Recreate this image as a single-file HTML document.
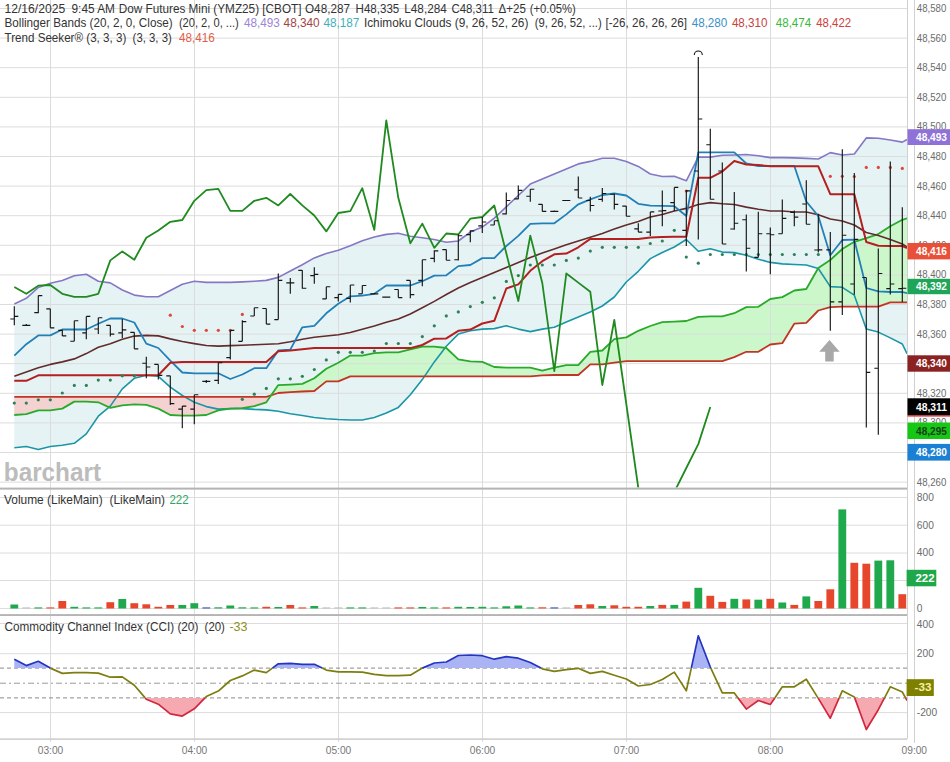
<!DOCTYPE html><html><head><meta charset="utf-8"><style>html,body{margin:0;padding:0;background:#fff;width:950px;height:762px;overflow:hidden}</style></head><body><svg width="950" height="762" viewBox="0 0 950 762" style="display:block">
<defs><clipPath id="cm"><rect x="0" y="0" width="907" height="487.5"/></clipPath><clipPath id="cc"><rect x="0" y="615.5" width="907" height="123.5"/></clipPath></defs>
<rect width="950" height="762" fill="#fff"/>
<g clip-path="url(#cm)">
<polygon points="14.3,304.0 26.3,298.3 38.3,287.5 50.3,283.2 62.3,280.5 74.3,275.7 86.3,274.3 98.3,281.2 110.3,282.9 122.3,290.0 134.3,295.1 146.3,296.8 158.3,296.8 170.3,290.5 182.3,284.2 194.3,281.2 206.3,282.4 218.3,282.4 230.3,282.4 242.3,281.9 254.3,281.2 266.3,280.4 278.3,277.4 290.3,271.0 302.3,264.7 314.3,257.9 326.3,253.4 338.3,250.3 350.3,245.8 362.3,240.7 374.3,237.0 386.3,234.4 398.3,233.2 410.3,236.2 422.3,237.7 434.3,239.5 446.3,242.2 458.3,241.0 470.3,232.1 482.3,227.1 494.3,218.2 506.3,206.8 518.3,195.5 530.3,184.1 542.3,179.1 554.3,174.0 566.3,169.0 578.3,163.9 590.3,161.4 602.3,158.3 614.3,158.3 626.3,161.4 638.3,166.4 650.3,174.0 662.3,176.5 674.3,176.3 686.3,180.8 698.3,157.1 710.3,157.1 722.3,155.3 734.3,155.0 746.3,154.5 758.3,155.8 770.3,157.6 782.3,157.6 794.3,157.9 806.3,158.4 818.3,159.0 830.3,152.6 842.3,155.0 854.3,154.0 866.3,137.9 878.3,138.2 890.3,140.0 902.3,142.1 907.0,139.5 907.0,353.7 902.3,344.0 890.3,337.9 878.3,332.1 866.3,329.0 854.3,295.2 842.3,287.3 830.3,286.6 818.3,268.5 806.3,265.0 794.3,264.5 782.3,263.9 770.3,262.4 758.3,259.2 746.3,255.3 734.3,252.6 722.3,252.1 710.3,248.7 698.3,251.3 686.3,239.5 674.3,247.0 662.3,252.5 650.3,258.6 638.3,271.3 626.3,282.0 614.3,297.0 602.3,306.0 590.3,312.0 578.3,317.0 566.3,322.0 554.3,327.3 542.3,329.1 530.3,331.6 518.3,329.1 506.3,325.8 494.3,328.6 482.3,329.1 470.3,330.8 458.3,334.1 446.3,346.2 434.3,361.9 422.3,379.6 410.3,394.7 398.3,407.4 386.3,412.9 374.3,417.5 362.3,420.0 350.3,420.0 338.3,419.5 326.3,418.7 314.3,417.5 302.3,415.5 290.3,413.7 278.3,411.2 266.3,409.9 254.3,409.4 242.3,408.6 230.3,408.6 218.3,409.1 206.3,406.6 194.3,402.3 182.3,395.5 170.3,387.2 158.3,376.3 146.3,375.3 134.3,378.3 122.3,388.9 110.3,406.1 98.3,416.2 86.3,433.9 74.3,443.3 62.3,445.3 50.3,446.5 38.3,449.6 26.3,446.5 14.3,447.8" fill="#e6f3f4"/>
<polygon points="14.3,415.0 26.3,414.2 38.3,410.4 50.3,410.4 62.3,408.6 74.3,401.6 86.3,401.6 98.3,402.3 110.3,407.9 122.3,405.4 134.3,404.3 146.3,404.9 158.3,408.6 170.3,415.0 182.3,415.7 194.3,415.7 206.3,415.0 218.3,410.4 230.3,408.6 242.3,408.1 254.3,406.1 266.3,402.3 271.2,395.2 271.2,395.2 266.3,396.8 254.3,396.8 242.3,396.8 230.3,396.8 218.3,396.8 206.3,396.8 194.3,396.8 182.3,396.8 170.3,396.8 158.3,396.8 146.3,396.8 134.3,396.8 122.3,396.8 110.3,396.8 98.3,396.8 86.3,396.8 74.3,396.8 62.3,396.8 50.3,396.8 38.3,396.8 26.3,396.8 14.3,396.8" fill="#f4d2d2"/>
<polygon points="271.2,395.2 278.3,385.1 290.3,384.6 302.3,383.9 314.3,378.3 326.3,368.7 338.3,362.7 350.3,355.6 362.3,355.6 374.3,353.1 386.3,352.3 398.3,352.3 410.3,349.3 422.3,346.7 434.3,346.7 446.3,348.0 458.3,359.4 470.3,361.4 482.3,361.9 494.3,367.0 506.3,367.7 518.3,367.7 530.3,367.7 542.3,370.7 554.3,367.7 566.3,365.2 578.3,365.2 590.3,351.8 602.3,350.5 614.3,339.2 626.3,337.4 638.3,330.8 650.3,326.0 662.3,322.2 674.3,321.6 686.3,321.0 698.3,316.8 710.3,316.3 722.3,316.3 734.3,313.2 746.3,307.1 758.3,306.8 770.3,299.0 782.3,297.1 794.3,290.5 806.3,289.0 818.3,268.0 830.3,260.0 842.3,249.0 854.3,241.8 866.3,238.1 878.3,234.1 890.3,226.3 902.3,219.8 907.0,218.4 907.0,302.4 902.3,302.4 890.3,302.4 878.3,306.6 866.3,306.6 854.3,306.6 842.3,306.6 830.3,307.1 818.3,310.5 806.3,322.9 794.3,323.7 782.3,343.2 770.3,344.5 758.3,351.8 746.3,351.8 734.3,357.1 722.3,361.1 710.3,361.1 698.3,361.1 686.3,361.1 674.3,361.1 662.3,361.1 650.3,361.1 638.3,361.1 626.3,361.1 614.3,362.7 602.3,364.4 590.3,364.4 578.3,375.0 566.3,375.0 554.3,375.0 542.3,375.3 530.3,376.3 518.3,376.3 506.3,376.3 494.3,376.3 482.3,376.3 470.3,376.3 458.3,376.3 446.3,376.3 434.3,376.3 422.3,376.3 410.3,376.3 398.3,376.3 386.3,376.3 374.3,376.3 362.3,376.3 350.3,376.3 338.3,381.4 326.3,381.4 314.3,391.0 302.3,391.5 290.3,392.2 278.3,393.0 271.2,395.2" fill="#cbf7cb"/>
</g>
<line x1="0" y1="8.5" x2="907" y2="8.5" stroke="#dcdcdc" stroke-width="1"/>
<line x1="0" y1="38.1" x2="907" y2="38.1" stroke="#dcdcdc" stroke-width="1"/>
<line x1="0" y1="67.7" x2="907" y2="67.7" stroke="#dcdcdc" stroke-width="1"/>
<line x1="0" y1="97.3" x2="907" y2="97.3" stroke="#dcdcdc" stroke-width="1"/>
<line x1="0" y1="126.9" x2="907" y2="126.9" stroke="#dcdcdc" stroke-width="1"/>
<line x1="0" y1="156.5" x2="907" y2="156.5" stroke="#dcdcdc" stroke-width="1"/>
<line x1="0" y1="186.1" x2="907" y2="186.1" stroke="#dcdcdc" stroke-width="1"/>
<line x1="0" y1="215.7" x2="907" y2="215.7" stroke="#dcdcdc" stroke-width="1"/>
<line x1="0" y1="245.3" x2="907" y2="245.3" stroke="#dcdcdc" stroke-width="1"/>
<line x1="0" y1="274.9" x2="907" y2="274.9" stroke="#dcdcdc" stroke-width="1"/>
<line x1="0" y1="304.5" x2="907" y2="304.5" stroke="#dcdcdc" stroke-width="1"/>
<line x1="0" y1="334.1" x2="907" y2="334.1" stroke="#dcdcdc" stroke-width="1"/>
<line x1="0" y1="363.7" x2="907" y2="363.7" stroke="#dcdcdc" stroke-width="1"/>
<line x1="0" y1="393.3" x2="907" y2="393.3" stroke="#dcdcdc" stroke-width="1"/>
<line x1="0" y1="422.9" x2="907" y2="422.9" stroke="#dcdcdc" stroke-width="1"/>
<line x1="0" y1="452.5" x2="907" y2="452.5" stroke="#dcdcdc" stroke-width="1"/>
<line x1="0" y1="482.1" x2="907" y2="482.1" stroke="#dcdcdc" stroke-width="1"/>
<line x1="50.5" y1="0" x2="50.5" y2="742" stroke="#dcdcdc" stroke-width="1"/>
<line x1="194.5" y1="0" x2="194.5" y2="742" stroke="#dcdcdc" stroke-width="1"/>
<line x1="338.5" y1="0" x2="338.5" y2="742" stroke="#dcdcdc" stroke-width="1"/>
<line x1="482.5" y1="0" x2="482.5" y2="742" stroke="#dcdcdc" stroke-width="1"/>
<line x1="626.5" y1="0" x2="626.5" y2="742" stroke="#dcdcdc" stroke-width="1"/>
<line x1="770.5" y1="0" x2="770.5" y2="742" stroke="#dcdcdc" stroke-width="1"/>
<line x1="0" y1="497.5" x2="907" y2="497.5" stroke="#dcdcdc" stroke-width="1"/>
<line x1="0" y1="525.2" x2="907" y2="525.2" stroke="#dcdcdc" stroke-width="1"/>
<line x1="0" y1="553.0" x2="907" y2="553.0" stroke="#dcdcdc" stroke-width="1"/>
<line x1="0" y1="580.5" x2="907" y2="580.5" stroke="#dcdcdc" stroke-width="1"/>
<line x1="0" y1="608.5" x2="907" y2="608.5" stroke="#dcdcdc" stroke-width="1"/>
<line x1="0" y1="623.5" x2="907" y2="623.5" stroke="#dcdcdc" stroke-width="1"/>
<line x1="0" y1="653.7" x2="907" y2="653.7" stroke="#dcdcdc" stroke-width="1"/>
<line x1="0" y1="712.6" x2="907" y2="712.6" stroke="#dcdcdc" stroke-width="1"/>
<line x1="0" y1="668.1" x2="907" y2="668.1" stroke="#8a8a8a" stroke-width="1" stroke-dasharray="4,3"/>
<line x1="0" y1="697.9" x2="907" y2="697.9" stroke="#8a8a8a" stroke-width="1" stroke-dasharray="4,3"/>
<line x1="0" y1="683.2" x2="907" y2="683.2" stroke="#9a9a9a" stroke-width="1" stroke-dasharray="6,3,2,3"/>
<g clip-path="url(#cm)">
<polyline points="14.3,447.8 26.3,446.5 38.3,449.6 50.3,446.5 62.3,445.3 74.3,443.3 86.3,433.9 98.3,416.2 110.3,406.1 122.3,388.9 134.3,378.3 146.3,375.3 158.3,376.3 170.3,387.2 182.3,395.5 194.3,402.3 206.3,406.6 218.3,409.1 230.3,408.6 242.3,408.6 254.3,409.4 266.3,409.9 278.3,411.2 290.3,413.7 302.3,415.5 314.3,417.5 326.3,418.7 338.3,419.5 350.3,420.0 362.3,420.0 374.3,417.5 386.3,412.9 398.3,407.4 410.3,394.7 422.3,379.6 434.3,361.9 446.3,346.2 458.3,334.1 470.3,330.8 482.3,329.1 494.3,328.6 506.3,325.8 518.3,329.1 530.3,331.6 542.3,329.1 554.3,327.3 566.3,322.0 578.3,317.0 590.3,312.0 602.3,306.0 614.3,297.0 626.3,282.0 638.3,271.3 650.3,258.6 662.3,252.5 674.3,247.0 686.3,239.5 698.3,251.3 710.3,248.7 722.3,252.1 734.3,252.6 746.3,255.3 758.3,259.2 770.3,262.4 782.3,263.9 794.3,264.5 806.3,265.0 818.3,268.5 830.3,286.6 842.3,287.3 854.3,295.2 866.3,329.0 878.3,332.1 890.3,337.9 902.3,344.0 907.0,353.7" fill="none" stroke="#1a96a6" stroke-width="1.6" stroke-linejoin="round" />
<polyline points="14.3,304.0 26.3,298.3 38.3,287.5 50.3,283.2 62.3,280.5 74.3,275.7 86.3,274.3 98.3,281.2 110.3,282.9 122.3,290.0 134.3,295.1 146.3,296.8 158.3,296.8 170.3,290.5 182.3,284.2 194.3,281.2 206.3,282.4 218.3,282.4 230.3,282.4 242.3,281.9 254.3,281.2 266.3,280.4 278.3,277.4 290.3,271.0 302.3,264.7 314.3,257.9 326.3,253.4 338.3,250.3 350.3,245.8 362.3,240.7 374.3,237.0 386.3,234.4 398.3,233.2 410.3,236.2 422.3,237.7 434.3,239.5 446.3,242.2 458.3,241.0 470.3,232.1 482.3,227.1 494.3,218.2 506.3,206.8 518.3,195.5 530.3,184.1 542.3,179.1 554.3,174.0 566.3,169.0 578.3,163.9 590.3,161.4 602.3,158.3 614.3,158.3 626.3,161.4 638.3,166.4 650.3,174.0 662.3,176.5 674.3,176.3 686.3,180.8 698.3,157.1 710.3,157.1 722.3,155.3 734.3,155.0 746.3,154.5 758.3,155.8 770.3,157.6 782.3,157.6 794.3,157.9 806.3,158.4 818.3,159.0 830.3,152.6 842.3,155.0 854.3,154.0 866.3,137.9 878.3,138.2 890.3,140.0 902.3,142.1 907.0,139.5" fill="none" stroke="#8478c4" stroke-width="1.6" stroke-linejoin="round" />
<polyline points="14.3,396.8 26.3,396.8 38.3,396.8 50.3,396.8 62.3,396.8 74.3,396.8 86.3,396.8 98.3,396.8 110.3,396.8 122.3,396.8 134.3,396.8 146.3,396.8 158.3,396.8 170.3,396.8 182.3,396.8 194.3,396.8 206.3,396.8 218.3,396.8 230.3,396.8 242.3,396.8 254.3,396.8 266.3,396.8 278.3,393.0 290.3,392.2 302.3,391.5 314.3,391.0 326.3,381.4 338.3,381.4 350.3,376.3 362.3,376.3 374.3,376.3 386.3,376.3 398.3,376.3 410.3,376.3 422.3,376.3 434.3,376.3 446.3,376.3 458.3,376.3 470.3,376.3 482.3,376.3 494.3,376.3 506.3,376.3 518.3,376.3 530.3,376.3 542.3,375.3 554.3,375.0 566.3,375.0 578.3,375.0 590.3,364.4 602.3,364.4 614.3,362.7 626.3,361.1 638.3,361.1 650.3,361.1 662.3,361.1 674.3,361.1 686.3,361.1 698.3,361.1 710.3,361.1 722.3,361.1 734.3,357.1 746.3,351.8 758.3,351.8 770.3,344.5 782.3,343.2 794.3,323.7 806.3,322.9 818.3,310.5 830.3,307.1 842.3,306.6 854.3,306.6 866.3,306.6 878.3,306.6 890.3,302.4 902.3,302.4 907.0,302.4" fill="none" stroke="#c23424" stroke-width="1.8" stroke-linejoin="round" />
<polyline points="14.3,415.0 26.3,414.2 38.3,410.4 50.3,410.4 62.3,408.6 74.3,401.6 86.3,401.6 98.3,402.3 110.3,407.9 122.3,405.4 134.3,404.3 146.3,404.9 158.3,408.6 170.3,415.0 182.3,415.7 194.3,415.7 206.3,415.0 218.3,410.4 230.3,408.6 242.3,408.1 254.3,406.1 266.3,402.3 278.3,385.1 290.3,384.6 302.3,383.9 314.3,378.3 326.3,368.7 338.3,362.7 350.3,355.6 362.3,355.6 374.3,353.1 386.3,352.3 398.3,352.3 410.3,349.3 422.3,346.7 434.3,346.7 446.3,348.0 458.3,359.4 470.3,361.4 482.3,361.9 494.3,367.0 506.3,367.7 518.3,367.7 530.3,367.7 542.3,370.7 554.3,367.7 566.3,365.2 578.3,365.2 590.3,351.8 602.3,350.5 614.3,339.2 626.3,337.4 638.3,330.8 650.3,326.0 662.3,322.2 674.3,321.6 686.3,321.0 698.3,316.8 710.3,316.3 722.3,316.3 734.3,313.2 746.3,307.1 758.3,306.8 770.3,299.0 782.3,297.1 794.3,290.5 806.3,289.0 818.3,268.0 830.3,260.0 842.3,249.0 854.3,241.8 866.3,238.1 878.3,234.1 890.3,226.3 902.3,219.8 907.0,218.4" fill="none" stroke="#2aaa2a" stroke-width="1.8" stroke-linejoin="round" />
<polyline points="14.3,376.3 26.3,372.0 38.3,367.7 50.3,364.4 62.3,361.9 74.3,358.9 86.3,353.6 98.3,347.2 110.3,343.7 122.3,339.2 134.3,336.1 146.3,335.4 158.3,335.9 170.3,338.9 182.3,341.5 194.3,343.6 206.3,345.5 218.3,346.1 230.3,345.6 242.3,345.3 254.3,344.8 266.3,344.3 278.3,343.8 290.3,341.8 302.3,339.3 314.3,337.3 326.3,336.0 338.3,334.7 350.3,332.5 362.3,329.2 374.3,325.9 386.3,322.3 398.3,319.1 410.3,314.0 422.3,307.7 434.3,301.4 446.3,294.5 458.3,288.0 470.3,282.6 482.3,277.6 494.3,272.5 506.3,267.5 518.3,262.4 530.3,257.4 542.3,253.1 554.3,249.0 566.3,244.7 578.3,241.0 590.3,237.2 602.3,233.4 614.3,229.1 626.3,225.0 638.3,221.5 650.3,217.0 662.3,214.5 674.3,211.0 686.3,208.4 698.3,204.5 710.3,202.6 722.3,203.7 734.3,204.5 746.3,207.1 758.3,209.2 770.3,211.0 782.3,211.0 794.3,212.0 806.3,212.0 818.3,214.7 830.3,219.0 842.3,221.0 854.3,225.0 866.3,232.5 878.3,235.5 890.3,239.5 902.3,244.0 907.0,247.0" fill="none" stroke="#622c2c" stroke-width="1.6" stroke-linejoin="round" />
<polyline points="14.3,355.6 26.3,344.2 38.3,335.4 50.3,335.4 62.3,329.5 74.3,329.5 86.3,329.5 98.3,323.8 110.3,318.5 122.3,318.5 134.3,322.5 146.3,343.6 158.3,348.0 170.3,360.7 182.3,372.5 194.3,373.3 206.3,373.3 218.3,373.3 230.3,379.0 242.3,374.5 254.3,368.2 266.3,368.2 278.3,350.5 290.3,349.6 302.3,327.3 314.3,325.8 326.3,313.3 338.3,303.8 350.3,296.3 362.3,295.6 374.3,293.8 386.3,285.5 398.3,285.5 410.3,285.5 422.3,281.2 434.3,275.6 446.3,275.3 458.3,266.1 470.3,265.0 482.3,258.1 494.3,258.1 506.3,246.0 518.3,235.9 530.3,223.8 542.3,223.3 554.3,223.3 566.3,214.4 578.3,204.3 590.3,199.3 602.3,195.0 614.3,193.5 626.3,195.5 638.3,203.8 650.3,205.6 662.3,205.8 674.3,206.2 686.3,216.0 698.3,152.4 710.3,152.4 722.3,152.4 734.3,152.4 746.3,163.5 758.3,166.0 770.3,166.0 782.3,166.0 794.3,166.0 806.3,201.5 818.3,216.0 830.3,255.2 842.3,240.0 854.3,239.7 866.3,288.0 878.3,291.4 890.3,292.0 902.3,292.0 907.0,293.2" fill="none" stroke="#2280b8" stroke-width="1.8" stroke-linejoin="round" />
<polyline points="14.3,380.8 26.3,380.8 38.3,375.3 50.3,375.3 62.3,375.3 74.3,375.3 86.3,375.3 98.3,375.3 110.3,375.3 122.3,375.3 134.3,375.3 146.3,375.3 158.3,375.3 170.3,362.7 182.3,361.9 194.3,361.9 206.3,361.9 218.3,361.9 230.3,361.9 242.3,361.9 254.3,361.9 266.3,361.9 278.3,351.3 290.3,350.5 302.3,349.3 314.3,348.1 326.3,348.1 338.3,348.1 350.3,348.1 362.3,348.1 374.3,348.1 386.3,348.1 398.3,348.1 410.3,348.1 422.3,345.0 434.3,338.7 446.3,338.4 458.3,330.8 470.3,329.6 482.3,323.5 494.3,320.8 506.3,288.5 518.3,284.4 530.3,270.8 542.3,261.2 554.3,254.3 566.3,253.6 578.3,247.3 590.3,238.9 602.3,238.9 614.3,238.9 626.3,238.9 638.3,238.9 650.3,237.5 662.3,237.0 674.3,236.8 686.3,236.8 698.3,177.8 710.3,177.8 722.3,171.6 734.3,161.0 746.3,164.5 758.3,165.0 770.3,166.3 782.3,166.3 794.3,166.3 806.3,166.3 818.3,166.3 830.3,194.2 842.3,194.2 854.3,194.2 866.3,242.0 878.3,245.7 890.3,246.0 902.3,246.0 907.0,248.0" fill="none" stroke="#b42020" stroke-width="2.0" stroke-linejoin="round" />
<polyline points="14.3,287.0 26.3,293.8 38.3,285.7 50.3,285.0 62.3,293.8 74.3,296.8 86.3,296.8 98.3,293.8 110.3,260.4 122.3,251.4 134.3,259.7 146.3,237.7 158.3,230.6 170.3,221.8 182.3,220.0 194.3,200.8 206.3,190.2 218.3,188.9 230.3,210.9 242.3,210.9 254.3,200.8 266.3,197.8 278.3,205.4 290.3,194.0 302.3,205.4 314.3,215.5 326.3,231.4 338.3,213.0 350.3,211.2 362.3,188.2 374.3,229.9 386.3,120.3 398.3,197.8 410.3,243.3 422.3,223.6 434.3,247.8 446.3,233.5 458.3,234.5 470.3,218.7 482.3,217.0 494.3,205.5 506.3,253.3 518.3,301.0 530.3,235.6 542.3,283.0 554.3,371.2 566.3,273.5 578.3,282.6 590.3,291.8 602.3,385.0 614.3,320.0 626.3,404.0 638.3,488.0 650.3,570.0 662.3,560.0 674.3,492.0 686.3,468.0 698.3,444.1 710.3,407.0" fill="none" stroke="#1f8a1f" stroke-width="1.8" stroke-linejoin="round" />
<circle cx="14.3" cy="403.1" r="1.6" fill="#2f8256"/>
<circle cx="26.3" cy="403.1" r="1.6" fill="#2f8256"/>
<circle cx="38.3" cy="399.8" r="1.6" fill="#2f8256"/>
<circle cx="50.3" cy="399.8" r="1.6" fill="#2f8256"/>
<circle cx="62.3" cy="393.0" r="1.6" fill="#2f8256"/>
<circle cx="74.3" cy="385.4" r="1.6" fill="#2f8256"/>
<circle cx="86.3" cy="385.4" r="1.6" fill="#2f8256"/>
<circle cx="98.3" cy="380.1" r="1.6" fill="#2f8256"/>
<circle cx="110.3" cy="380.1" r="1.6" fill="#2f8256"/>
<circle cx="122.3" cy="375.8" r="1.6" fill="#2f8256"/>
<circle cx="134.3" cy="375.8" r="1.6" fill="#2f8256"/>
<circle cx="242.3" cy="399.3" r="1.6" fill="#2f8256"/>
<circle cx="254.3" cy="394.2" r="1.6" fill="#2f8256"/>
<circle cx="266.3" cy="388.4" r="1.6" fill="#2f8256"/>
<circle cx="278.3" cy="378.8" r="1.6" fill="#2f8256"/>
<circle cx="290.3" cy="378.8" r="1.6" fill="#2f8256"/>
<circle cx="302.3" cy="376.3" r="1.6" fill="#2f8256"/>
<circle cx="314.3" cy="369.5" r="1.6" fill="#2f8256"/>
<circle cx="326.3" cy="359.9" r="1.6" fill="#2f8256"/>
<circle cx="338.3" cy="352.3" r="1.6" fill="#2f8256"/>
<circle cx="350.3" cy="352.3" r="1.6" fill="#2f8256"/>
<circle cx="362.3" cy="352.3" r="1.6" fill="#2f8256"/>
<circle cx="374.3" cy="351.0" r="1.6" fill="#2f8256"/>
<circle cx="386.3" cy="343.5" r="1.6" fill="#2f8256"/>
<circle cx="398.3" cy="343.5" r="1.6" fill="#2f8256"/>
<circle cx="410.3" cy="343.5" r="1.6" fill="#2f8256"/>
<circle cx="422.3" cy="336.6" r="1.6" fill="#2f8256"/>
<circle cx="434.3" cy="325.8" r="1.6" fill="#2f8256"/>
<circle cx="446.3" cy="315.9" r="1.6" fill="#2f8256"/>
<circle cx="458.3" cy="311.9" r="1.6" fill="#2f8256"/>
<circle cx="470.3" cy="306.6" r="1.6" fill="#2f8256"/>
<circle cx="482.3" cy="302.3" r="1.6" fill="#2f8256"/>
<circle cx="494.3" cy="297.8" r="1.6" fill="#2f8256"/>
<circle cx="506.3" cy="281.4" r="1.6" fill="#2f8256"/>
<circle cx="518.3" cy="275.6" r="1.6" fill="#2f8256"/>
<circle cx="530.3" cy="265.0" r="1.6" fill="#2f8256"/>
<circle cx="542.3" cy="265.0" r="1.6" fill="#2f8256"/>
<circle cx="554.3" cy="265.0" r="1.6" fill="#2f8256"/>
<circle cx="566.3" cy="260.4" r="1.6" fill="#2f8256"/>
<circle cx="578.3" cy="258.1" r="1.6" fill="#2f8256"/>
<circle cx="590.3" cy="251.1" r="1.6" fill="#2f8256"/>
<circle cx="602.3" cy="247.3" r="1.6" fill="#2f8256"/>
<circle cx="614.3" cy="247.3" r="1.6" fill="#2f8256"/>
<circle cx="626.3" cy="247.3" r="1.6" fill="#2f8256"/>
<circle cx="638.3" cy="247.3" r="1.6" fill="#2f8256"/>
<circle cx="650.3" cy="243.5" r="1.6" fill="#2f8256"/>
<circle cx="662.3" cy="241.0" r="1.6" fill="#2f8256"/>
<circle cx="674.3" cy="230.3" r="1.6" fill="#2f8256"/>
<circle cx="686.3" cy="257.1" r="1.6" fill="#2f8256"/>
<circle cx="698.3" cy="263.2" r="1.6" fill="#2f8256"/>
<circle cx="710.3" cy="254.5" r="1.6" fill="#2f8256"/>
<circle cx="722.3" cy="254.5" r="1.6" fill="#2f8256"/>
<circle cx="734.3" cy="254.5" r="1.6" fill="#2f8256"/>
<circle cx="746.3" cy="254.5" r="1.6" fill="#2f8256"/>
<circle cx="758.3" cy="254.5" r="1.6" fill="#2f8256"/>
<circle cx="770.3" cy="254.5" r="1.6" fill="#2f8256"/>
<circle cx="782.3" cy="254.5" r="1.6" fill="#2f8256"/>
<circle cx="794.3" cy="254.5" r="1.6" fill="#2f8256"/>
<circle cx="806.3" cy="254.5" r="1.6" fill="#2f8256"/>
<circle cx="818.3" cy="254.5" r="1.6" fill="#2f8256"/>
<circle cx="170.3" cy="315.2" r="1.6" fill="#e0473a"/>
<circle cx="182.3" cy="326.5" r="1.6" fill="#e0473a"/>
<circle cx="194.3" cy="330.3" r="1.6" fill="#e0473a"/>
<circle cx="206.3" cy="330.3" r="1.6" fill="#e0473a"/>
<circle cx="218.3" cy="330.3" r="1.6" fill="#e0473a"/>
<circle cx="230.3" cy="330.3" r="1.6" fill="#e0473a"/>
<circle cx="242.3" cy="314.4" r="1.6" fill="#e0473a"/>
<circle cx="686.3" cy="191.0" r="1.6" fill="#e0473a"/>
<circle cx="830.3" cy="176.3" r="1.6" fill="#e0473a"/>
<circle cx="842.3" cy="176.3" r="1.6" fill="#e0473a"/>
<circle cx="854.3" cy="176.5" r="1.6" fill="#e0473a"/>
<circle cx="866.3" cy="167.4" r="1.6" fill="#e0473a"/>
<circle cx="878.3" cy="167.4" r="1.6" fill="#e0473a"/>
<circle cx="890.3" cy="167.4" r="1.6" fill="#e0473a"/>
<circle cx="902.3" cy="168.4" r="1.6" fill="#e0473a"/>
<path d="M14.3 306.3V325.3M10.3 319H14.3M14.3 316.4H18.3M26.3 324V326M22.3 325.3H26.3M26.3 325.3H30.3M38.3 295.6V313.3M34.3 312.6H38.3M38.3 295.6H42.3M50.3 308.8V327.8M46.3 308.8H50.3M50.3 327.8H54.3M62.3 329.8V335.9M58.3 330.3H62.3M62.3 335.9H66.3M74.3 320.7V341.2M70.3 341.2H74.3M74.3 320.7H78.3M86.3 316.4V339.2M82.3 332.8H86.3M86.3 316.4H90.3M98.3 317.7V334.1M94.3 329H98.3M98.3 317.7H102.3M110.3 325.3V336.6M106.3 325.3H110.3M110.3 334.1H114.3M122.3 319V337.9M118.3 332.8H122.3M122.3 329.8H126.3M134.3 332.3V348.8M130.3 332.3H134.3M134.3 348.8H138.3M146.3 356.8V378.3M142.3 363.2H146.3M146.3 367H150.3M158.3 364.4V379.6M154.3 364.4H158.3M158.3 375.3H162.3M170.3 375.8V404.9M166.3 375.8H170.3M170.3 403.6H174.3M182.3 406.1V428.3M178.3 409.1H182.3M182.3 406.1H186.3M194.3 394.7V424.3M190.3 409.1H194.3M194.3 394.7H198.3M206.3 380V383M202.3 381.4H206.3M206.3 381.4H210.3M218.3 362.7V384.1M214.3 380.3H218.3M218.3 362.7H222.3M230.3 330.3V359.4M226.3 357.6H230.3M230.3 330.3H234.3M242.3 320.3V341.3M238.3 341.3H242.3M242.3 321.6H246.3M254.3 307.7V316M250.3 316H254.3M254.3 307.7H258.3M266.3 308.5V324.1M262.3 308.5H266.3M266.3 324.1H270.3M278.3 273.6V319.6M274.3 319.6H278.3M278.3 280.4H282.3M290.3 278.1V293.8M286.3 282.9H290.3M290.3 282.9H294.3M302.3 270.3V288.7M298.3 270.3H302.3M302.3 288.2H306.3M314.3 267.3V283.7M310.3 275.6H314.3M314.3 274.3H318.3M326.3 286.7V298.9M322.3 298.9H326.3M326.3 286.7H330.3M338.3 294.3V301.4M334.3 297.6H338.3M338.3 294.3H342.3M350.3 285V302.6M346.3 298.3H350.3M350.3 285H354.3M362.3 285.5V293.8M358.3 293.8H362.3M362.3 285.5H366.3M374.3 293V294.5M370.3 293.8H374.3M374.3 293.8H378.3M386.3 296.5V297.5M382.3 297.1H386.3M386.3 297.1H390.3M398.3 289.5V297.6M394.3 289.5H398.3M398.3 297.6H402.3M410.3 280.4V298.3M406.3 280.4H410.3M410.3 294.6H414.3M422.3 259.7V286.2M418.3 280.4H422.3M422.3 259.7H426.3M434.3 250.3V262.2M430.3 258.4H434.3M434.3 250.8H438.3M446.3 249.6V260.2M442.3 249.6H446.3M446.3 260.2H450.3M458.3 234.4V260.4M454.3 259.7H458.3M458.3 235.7H462.3M470.3 230.3V242.2M466.3 234.6H470.3M470.3 230.8H474.3M482.3 217V232.9M478.3 225.8H482.3M482.3 222H486.3M494.3 220.7V225M490.3 225H494.3M494.3 220.7H498.3M506.3 192.4V214.4M502.3 213.9H506.3M506.3 200.5H510.3M518.3 185.4V199.3M514.3 198.8H518.3M518.3 190.4H522.3M530.3 189.2V201.8M526.3 196.2H530.3M530.3 189.2H534.3M542.3 204.3V211.4M538.3 204.3H542.3M542.3 211.4H546.3M554.3 210.5V212M550.3 211.4H554.3M554.3 211.4H558.3M566.3 200V201M562.3 200.5H566.3M566.3 200.5H570.3M578.3 176.5V198M574.3 189.9H578.3M578.3 198H582.3M590.3 196.7V211.5M586.3 200.5H590.3M590.3 205.5H594.3M602.3 187.9V201.8M598.3 199.3H602.3M602.3 193.5H606.3M614.3 193.5V209.4M610.3 194.2H614.3M614.3 204.3H618.3M626.3 206.1V216.2M622.3 206.1H626.3M626.3 216.2H630.3M638.3 223.3V232.1M634.3 228.8H638.3M638.3 232.1H642.3M650.3 211.9V235.9M646.3 232.1H650.3M650.3 211.9H654.3M662.3 190.4V226.3M658.3 211H662.3M662.3 210.6H666.3M674.3 187.4V211M670.3 202.6H674.3M674.3 187.4H678.3M686.3 190V246M682.3 230.3H686.3M686.3 190.8H690.3M698.3 57.1V239.5M694.3 171H698.3M698.3 119H702.3M710.3 128.7V199.5M706.3 144.7H710.3M710.3 199.2H714.3M722.3 162.4V244M718.3 171H722.3M722.3 244H726.3M734.3 192.1V229.7M730.3 229H734.3M734.3 223.2H738.3M746.3 214.5V271.6M742.3 219.7H746.3M746.3 248.2H750.3M758.3 211.8V257.4M754.3 257.4H758.3M758.3 233.7H762.3M770.3 227.4V274.2M766.3 233.7H770.3M770.3 234.7H774.3M782.3 199.5V233.7M778.3 233.7H782.3M782.3 218.4H786.3M794.3 210.5V226.3M790.3 212.4H794.3M794.3 217.1H798.3M806.3 180.3V224.2M802.3 204H806.3M806.3 224.2H810.3M818.3 213.7V252.6M814.3 250H818.3M818.3 249.9H822.3M830.3 232.1V330.8M826.3 249.9H830.3M830.3 301.8H834.3M842.3 149.2V315M838.3 301.8H842.3M842.3 235.2H846.3M854.3 172.9V294.7M850.3 284H854.3M854.3 239.4H858.3M866.3 277.5V427.4M862.3 277.5H866.3M866.3 372.4H870.3M878.3 248.6V434.7M874.3 368.2H878.3M878.3 273.5H882.3M890.3 161.6V294.5M886.3 288.6H890.3M890.3 284H894.3M902.3 207.2V302.1M898.3 288.6H902.3M902.3 288.2H906.3" stroke="#151515" stroke-width="1.15" fill="none"/>
<path d="M694.3 55 A4 4 0 0 1 702.3 55" stroke="#111" stroke-width="1.1" fill="none"/>
<path d="M819.2 351.8 L829.5 340 L839.7 351.8 L833.7 351.8 L833.7 361.6 L825.2 361.6 L825.2 351.8 Z" fill="#a8a8a8"/>
<text x="3.8" y="481.4" font-family="Liberation Sans, sans-serif" font-weight="bold" font-size="25" fill="#bcbcbc" textLength="97.2" lengthAdjust="spacingAndGlyphs">barchart</text>
</g>
<rect x="10.4" y="604.5" width="7.8" height="4.0" fill="#1fa84c"/>
<rect x="22.4" y="607.4" width="7.8" height="1.1" fill="#bdbdbd"/>
<rect x="34.4" y="607.4" width="7.8" height="1.1" fill="#1fa84c"/>
<rect x="46.4" y="607.4" width="7.8" height="1.1" fill="#e6472c"/>
<rect x="58.4" y="601.0" width="7.8" height="7.5" fill="#e6472c"/>
<rect x="70.4" y="606.8" width="7.8" height="1.7" fill="#1fa84c"/>
<rect x="82.4" y="607.4" width="7.8" height="1.1" fill="#1fa84c"/>
<rect x="94.4" y="607.4" width="7.8" height="1.1" fill="#1fa84c"/>
<rect x="106.4" y="602.2" width="7.8" height="6.3" fill="#e6472c"/>
<rect x="118.4" y="599.0" width="7.8" height="9.5" fill="#1fa84c"/>
<rect x="130.4" y="603.2" width="7.8" height="5.3" fill="#e6472c"/>
<rect x="142.4" y="604.3" width="7.8" height="4.2" fill="#e6472c"/>
<rect x="154.4" y="606.8" width="7.8" height="1.7" fill="#e6472c"/>
<rect x="166.4" y="605.0" width="7.8" height="3.5" fill="#e6472c"/>
<rect x="178.4" y="605.0" width="7.8" height="3.5" fill="#1fa84c"/>
<rect x="190.4" y="603.2" width="7.8" height="5.3" fill="#1fa84c"/>
<rect x="202.4" y="607.4" width="7.8" height="1.1" fill="#3a4fb0"/>
<rect x="214.4" y="607.3" width="7.8" height="1.2" fill="#1fa84c"/>
<rect x="226.4" y="605.5" width="7.8" height="3.0" fill="#1fa84c"/>
<rect x="238.4" y="607.3" width="7.8" height="1.2" fill="#1fa84c"/>
<rect x="250.4" y="607.4" width="7.8" height="1.1" fill="#1fa84c"/>
<rect x="262.4" y="606.8" width="7.8" height="1.7" fill="#e6472c"/>
<rect x="274.4" y="607.0" width="7.8" height="1.5" fill="#1fa84c"/>
<rect x="286.4" y="605.0" width="7.8" height="3.5" fill="#e6472c"/>
<rect x="298.4" y="607.4" width="7.8" height="1.1" fill="#e6472c"/>
<rect x="310.4" y="606.0" width="7.8" height="2.5" fill="#1fa84c"/>
<rect x="322.4" y="607.4" width="7.8" height="1.1" fill="#bdbdbd"/>
<rect x="334.4" y="607.4" width="7.8" height="1.1" fill="#bdbdbd"/>
<rect x="346.4" y="607.4" width="7.8" height="1.1" fill="#1fa84c"/>
<rect x="358.4" y="607.4" width="7.8" height="1.1" fill="#1fa84c"/>
<rect x="370.4" y="607.4" width="7.8" height="1.1" fill="#bdbdbd"/>
<rect x="382.4" y="607.4" width="7.8" height="1.1" fill="#bdbdbd"/>
<rect x="394.4" y="607.4" width="7.8" height="1.1" fill="#e6472c"/>
<rect x="406.4" y="607.4" width="7.8" height="1.1" fill="#e6472c"/>
<rect x="418.4" y="607.0" width="7.8" height="1.5" fill="#1fa84c"/>
<rect x="430.4" y="607.4" width="7.8" height="1.1" fill="#1fa84c"/>
<rect x="442.4" y="607.4" width="7.8" height="1.1" fill="#e6472c"/>
<rect x="454.4" y="606.8" width="7.8" height="1.7" fill="#1fa84c"/>
<rect x="466.4" y="607.0" width="7.8" height="1.5" fill="#1fa84c"/>
<rect x="478.4" y="606.8" width="7.8" height="1.7" fill="#1fa84c"/>
<rect x="490.4" y="607.4" width="7.8" height="1.1" fill="#1fa84c"/>
<rect x="502.4" y="606.3" width="7.8" height="2.2" fill="#1fa84c"/>
<rect x="514.4" y="605.5" width="7.8" height="3.0" fill="#1fa84c"/>
<rect x="526.4" y="607.4" width="7.8" height="1.1" fill="#1fa84c"/>
<rect x="538.4" y="607.3" width="7.8" height="1.2" fill="#e6472c"/>
<rect x="550.4" y="607.4" width="7.8" height="1.1" fill="#3a4fb0"/>
<rect x="562.4" y="607.4" width="7.8" height="1.1" fill="#bdbdbd"/>
<rect x="574.4" y="605.0" width="7.8" height="3.5" fill="#e6472c"/>
<rect x="586.4" y="604.3" width="7.8" height="4.2" fill="#e6472c"/>
<rect x="598.4" y="606.0" width="7.8" height="2.5" fill="#1fa84c"/>
<rect x="610.4" y="605.3" width="7.8" height="3.2" fill="#e6472c"/>
<rect x="622.4" y="606.8" width="7.8" height="1.7" fill="#e6472c"/>
<rect x="634.4" y="606.8" width="7.8" height="1.7" fill="#e6472c"/>
<rect x="646.4" y="606.0" width="7.8" height="2.5" fill="#1fa84c"/>
<rect x="658.4" y="604.9" width="7.8" height="3.6" fill="#e6472c"/>
<rect x="670.4" y="604.9" width="7.8" height="3.6" fill="#1fa84c"/>
<rect x="682.4" y="601.6" width="7.8" height="6.9" fill="#e6472c"/>
<rect x="694.4" y="587.8" width="7.8" height="20.7" fill="#1fa84c"/>
<rect x="706.4" y="595.8" width="7.8" height="12.7" fill="#e6472c"/>
<rect x="718.4" y="601.9" width="7.8" height="6.6" fill="#e6472c"/>
<rect x="730.4" y="598.8" width="7.8" height="9.7" fill="#1fa84c"/>
<rect x="742.4" y="599.4" width="7.8" height="9.1" fill="#e6472c"/>
<rect x="754.4" y="599.7" width="7.8" height="8.8" fill="#1fa84c"/>
<rect x="766.4" y="598.8" width="7.8" height="9.7" fill="#e6472c"/>
<rect x="778.4" y="602.5" width="7.8" height="6.0" fill="#1fa84c"/>
<rect x="790.4" y="604.9" width="7.8" height="3.6" fill="#e6472c"/>
<rect x="802.4" y="596.4" width="7.8" height="12.1" fill="#1fa84c"/>
<rect x="814.4" y="601.0" width="7.8" height="7.5" fill="#e6472c"/>
<rect x="826.4" y="589.3" width="7.8" height="19.2" fill="#e6472c"/>
<rect x="838.4" y="509.4" width="7.8" height="99.1" fill="#1fa84c"/>
<rect x="850.4" y="562.8" width="7.8" height="45.7" fill="#e6472c"/>
<rect x="862.4" y="563.7" width="7.8" height="44.8" fill="#e6472c"/>
<rect x="874.4" y="560.6" width="7.8" height="47.9" fill="#1fa84c"/>
<rect x="886.4" y="560.3" width="7.8" height="48.2" fill="#1fa84c"/>
<rect x="898.4" y="594.2" width="7.8" height="14.3" fill="#e6472c"/>
<g clip-path="url(#cc)">
<polygon points="14.3,668.1 14.3,659.2 26.3,665.6 38.3,661.3 50.3,668.1" fill="#aab4f4"/>
<polygon points="272.4,668.1 278.3,663.8 290.3,663.3 302.3,664.3 314.3,664.3 322.2,668.1" fill="#aab4f4"/>
<polygon points="422.3,668.1 434.3,663.0 446.3,662.0 458.3,655.5 470.3,655.0 482.3,655.7 494.3,659.2 506.3,656.7 518.3,658.2 530.3,662.5 541.0,668.1" fill="#aab4f4"/>
<polygon points="691.3,668.1 698.3,635.8 710.3,667.0 710.8,668.1" fill="#aab4f4"/>
<polygon points="145.2,697.9 146.3,699.2 158.3,704.2 170.3,713.8 182.3,716.1 194.3,708.8 205.0,697.9" fill="#f6a9b1"/>
<polygon points="738.0,697.9 746.3,709.1 758.3,700.5 770.3,704.5 774.8,697.9" fill="#f6a9b1"/>
<polygon points="818.0,697.9 818.3,698.4 830.3,718.2 839.2,697.9" fill="#f6a9b1"/>
<polygon points="854.7,697.9 866.3,729.5 878.3,709.7 884.5,697.9" fill="#f6a9b1"/>
<polygon points="905.6,697.9 907.0,700.5 907.0,697.9" fill="#f6a9b1"/>
<polyline points="14.3,659.2 26.3,665.6 38.3,661.3 50.3,668.1" fill="none" stroke="#2436c0" stroke-width="1.7" stroke-linejoin="round" />
<polyline points="50.3,668.1 62.3,673.4 74.3,672.6 86.3,672.6 98.3,673.1 110.3,677.2 122.3,676.9 134.3,685.3 145.2,697.9" fill="none" stroke="#7d7d10" stroke-width="1.7" stroke-linejoin="round" />
<polyline points="145.2,697.9 146.3,699.2 158.3,704.2 170.3,713.8 182.3,716.1 194.3,708.8 205.0,697.9" fill="none" stroke="#d0283e" stroke-width="1.7" stroke-linejoin="round" />
<polyline points="205.0,697.9 206.3,696.6 218.3,691.1 230.3,680.5 242.3,675.9 254.3,670.1 266.3,672.6 272.4,668.1" fill="none" stroke="#7d7d10" stroke-width="1.7" stroke-linejoin="round" />
<polyline points="272.4,668.1 278.3,663.8 290.3,663.3 302.3,664.3 314.3,664.3 322.2,668.1" fill="none" stroke="#2436c0" stroke-width="1.7" stroke-linejoin="round" />
<polyline points="322.2,668.1 326.3,670.1 338.3,671.9 350.3,671.9 362.3,672.1 374.3,674.4 386.3,675.7 398.3,675.7 410.3,675.2 422.3,668.1" fill="none" stroke="#7d7d10" stroke-width="1.7" stroke-linejoin="round" />
<polyline points="422.3,668.1 434.3,663.0 446.3,662.0 458.3,655.5 470.3,655.0 482.3,655.7 494.3,659.2 506.3,656.7 518.3,658.2 530.3,662.5 541.0,668.1" fill="none" stroke="#2436c0" stroke-width="1.7" stroke-linejoin="round" />
<polyline points="541.0,668.1 542.3,668.8 554.3,671.4 566.3,669.6 578.3,668.3 590.3,673.4 602.3,671.4 614.3,675.2 626.3,679.0 638.3,686.0 650.3,684.5 662.3,679.5 674.3,672.1 686.3,690.8 691.3,668.1" fill="none" stroke="#7d7d10" stroke-width="1.7" stroke-linejoin="round" />
<polyline points="691.3,668.1 698.3,635.8 710.3,667.0 710.8,668.1" fill="none" stroke="#2436c0" stroke-width="1.7" stroke-linejoin="round" />
<polyline points="710.8,668.1 722.3,692.9 734.3,692.9 738.0,697.9" fill="none" stroke="#7d7d10" stroke-width="1.7" stroke-linejoin="round" />
<polyline points="738.0,697.9 746.3,709.1 758.3,700.5 770.3,704.5 774.8,697.9" fill="none" stroke="#d0283e" stroke-width="1.7" stroke-linejoin="round" />
<polyline points="774.8,697.9 782.3,686.8 794.3,686.8 806.3,679.2 818.0,697.9" fill="none" stroke="#7d7d10" stroke-width="1.7" stroke-linejoin="round" />
<polyline points="818.0,697.9 818.3,698.4 830.3,718.2 839.2,697.9" fill="none" stroke="#d0283e" stroke-width="1.7" stroke-linejoin="round" />
<polyline points="839.2,697.9 842.3,690.8 854.3,696.9 854.7,697.9" fill="none" stroke="#7d7d10" stroke-width="1.7" stroke-linejoin="round" />
<polyline points="854.7,697.9 866.3,729.5 878.3,709.7 884.5,697.9" fill="none" stroke="#d0283e" stroke-width="1.7" stroke-linejoin="round" />
<polyline points="884.5,697.9 890.3,686.8 902.3,692.0 905.6,697.9" fill="none" stroke="#7d7d10" stroke-width="1.7" stroke-linejoin="round" />
<polyline points="905.6,697.9 907.0,700.5" fill="none" stroke="#d0283e" stroke-width="1.7" stroke-linejoin="round" />
</g>
<rect x="0" y="487.6" width="907" height="2" fill="#b4b4b4"/>
<rect x="0" y="614.1" width="907" height="1.9" fill="#b4b4b4"/>
<rect x="0" y="738.4" width="907" height="1.4" fill="#c8c8c8"/>
<line x1="907.5" y1="0" x2="907.5" y2="739" stroke="#d0d0d0" stroke-width="1"/>
<line x1="914.5" y1="0" x2="914.5" y2="743" stroke="#d0d0d0" stroke-width="1"/>
<text x="916.8" y="11.9" font-family="Liberation Sans, sans-serif" font-size="10.2" fill="#6c6c6c" textLength="29.5" lengthAdjust="spacingAndGlyphs">48,580</text>
<text x="916.8" y="41.5" font-family="Liberation Sans, sans-serif" font-size="10.2" fill="#6c6c6c" textLength="29.5" lengthAdjust="spacingAndGlyphs">48,560</text>
<text x="916.8" y="71.1" font-family="Liberation Sans, sans-serif" font-size="10.2" fill="#6c6c6c" textLength="29.5" lengthAdjust="spacingAndGlyphs">48,540</text>
<text x="916.8" y="100.7" font-family="Liberation Sans, sans-serif" font-size="10.2" fill="#6c6c6c" textLength="29.5" lengthAdjust="spacingAndGlyphs">48,520</text>
<text x="916.8" y="130.3" font-family="Liberation Sans, sans-serif" font-size="10.2" fill="#6c6c6c" textLength="29.5" lengthAdjust="spacingAndGlyphs">48,500</text>
<text x="916.8" y="159.9" font-family="Liberation Sans, sans-serif" font-size="10.2" fill="#6c6c6c" textLength="29.5" lengthAdjust="spacingAndGlyphs">48,480</text>
<text x="916.8" y="189.5" font-family="Liberation Sans, sans-serif" font-size="10.2" fill="#6c6c6c" textLength="29.5" lengthAdjust="spacingAndGlyphs">48,460</text>
<text x="916.8" y="219.1" font-family="Liberation Sans, sans-serif" font-size="10.2" fill="#6c6c6c" textLength="29.5" lengthAdjust="spacingAndGlyphs">48,440</text>
<text x="916.8" y="248.7" font-family="Liberation Sans, sans-serif" font-size="10.2" fill="#6c6c6c" textLength="29.5" lengthAdjust="spacingAndGlyphs">48,420</text>
<text x="916.8" y="278.3" font-family="Liberation Sans, sans-serif" font-size="10.2" fill="#6c6c6c" textLength="29.5" lengthAdjust="spacingAndGlyphs">48,400</text>
<text x="916.8" y="307.9" font-family="Liberation Sans, sans-serif" font-size="10.2" fill="#6c6c6c" textLength="29.5" lengthAdjust="spacingAndGlyphs">48,380</text>
<text x="916.8" y="337.5" font-family="Liberation Sans, sans-serif" font-size="10.2" fill="#6c6c6c" textLength="29.5" lengthAdjust="spacingAndGlyphs">48,360</text>
<text x="916.8" y="367.1" font-family="Liberation Sans, sans-serif" font-size="10.2" fill="#6c6c6c" textLength="29.5" lengthAdjust="spacingAndGlyphs">48,340</text>
<text x="916.8" y="396.7" font-family="Liberation Sans, sans-serif" font-size="10.2" fill="#6c6c6c" textLength="29.5" lengthAdjust="spacingAndGlyphs">48,320</text>
<text x="916.8" y="426.3" font-family="Liberation Sans, sans-serif" font-size="10.2" fill="#6c6c6c" textLength="29.5" lengthAdjust="spacingAndGlyphs">48,300</text>
<text x="916.8" y="455.9" font-family="Liberation Sans, sans-serif" font-size="10.2" fill="#6c6c6c" textLength="29.5" lengthAdjust="spacingAndGlyphs">48,280</text>
<text x="916.8" y="485.5" font-family="Liberation Sans, sans-serif" font-size="10.2" fill="#6c6c6c" textLength="29.5" lengthAdjust="spacingAndGlyphs">48,260</text>
<text x="916.8" y="500.9" font-family="Liberation Sans, sans-serif" font-size="10.2" fill="#6c6c6c">800</text>
<text x="916.8" y="528.6" font-family="Liberation Sans, sans-serif" font-size="10.2" fill="#6c6c6c">600</text>
<text x="916.8" y="556.4" font-family="Liberation Sans, sans-serif" font-size="10.2" fill="#6c6c6c">400</text>
<text x="916.8" y="583.9" font-family="Liberation Sans, sans-serif" font-size="10.2" fill="#6c6c6c">200</text>
<text x="916.8" y="611.9" font-family="Liberation Sans, sans-serif" font-size="10.2" fill="#6c6c6c">0</text>
<text x="916.8" y="627.6" font-family="Liberation Sans, sans-serif" font-size="10.2" fill="#6c6c6c">400</text>
<text x="916.8" y="657.2" font-family="Liberation Sans, sans-serif" font-size="10.2" fill="#6c6c6c">200</text>
<text x="916.8" y="715.5" font-family="Liberation Sans, sans-serif" font-size="10.2" fill="#6c6c6c">-200</text>
<text x="50.5" y="753.9" font-family="Liberation Sans, sans-serif" font-size="10.2" fill="#777" text-anchor="middle">03:00</text>
<text x="194.5" y="753.9" font-family="Liberation Sans, sans-serif" font-size="10.2" fill="#777" text-anchor="middle">04:00</text>
<text x="338.5" y="753.9" font-family="Liberation Sans, sans-serif" font-size="10.2" fill="#777" text-anchor="middle">05:00</text>
<text x="482.5" y="753.9" font-family="Liberation Sans, sans-serif" font-size="10.2" fill="#777" text-anchor="middle">06:00</text>
<text x="626.5" y="753.9" font-family="Liberation Sans, sans-serif" font-size="10.2" fill="#777" text-anchor="middle">07:00</text>
<text x="770.5" y="753.9" font-family="Liberation Sans, sans-serif" font-size="10.2" fill="#777" text-anchor="middle">08:00</text>
<text x="914.3" y="753.9" font-family="Liberation Sans, sans-serif" font-size="10.2" fill="#777" text-anchor="middle">09:00</text>
<rect x="907.5" y="129.2" width="42.5" height="15.800000000000011" fill="#8e72d8"/>
<text x="916.0" y="140.9" font-family="Liberation Sans, sans-serif" font-size="10.5" font-weight="bold" fill="#fff" textLength="31" lengthAdjust="spacingAndGlyphs">48,493</text>
<rect x="907.5" y="243.0" width="42.5" height="16.399999999999977" fill="#e9503a"/>
<text x="916.0" y="255.0" font-family="Liberation Sans, sans-serif" font-size="10.5" font-weight="bold" fill="#fff" textLength="31" lengthAdjust="spacingAndGlyphs">48,416</text>
<rect x="907.5" y="278.8" width="42.5" height="15.399999999999977" fill="#1fa55a"/>
<text x="916.0" y="290.3" font-family="Liberation Sans, sans-serif" font-size="10.5" font-weight="bold" fill="#fff" textLength="31" lengthAdjust="spacingAndGlyphs">48,392</text>
<rect x="907.5" y="355.3" width="42.5" height="16.399999999999977" fill="#8b2222"/>
<text x="916.0" y="367.3" font-family="Liberation Sans, sans-serif" font-size="10.5" font-weight="bold" fill="#fff" textLength="31" lengthAdjust="spacingAndGlyphs">48,340</text>
<rect x="907.5" y="415.2" width="42.5" height="1.4" fill="#e03030"/>
<rect x="907.5" y="398.3" width="42.5" height="16.899999999999977" fill="#000000"/>
<text x="916.0" y="410.6" font-family="Liberation Sans, sans-serif" font-size="10.5" font-weight="bold" fill="#fff" textLength="31" lengthAdjust="spacingAndGlyphs">48,311</text>
<rect x="907.5" y="422.5" width="42.5" height="16.5" fill="#14c814"/>
<text x="916.0" y="434.6" font-family="Liberation Sans, sans-serif" font-size="10.5" font-weight="bold" fill="#1d3d1d" textLength="31" lengthAdjust="spacingAndGlyphs">48,295</text>
<rect x="907.5" y="443.9" width="42.5" height="16.700000000000045" fill="#1a80d4"/>
<text x="916.0" y="456.1" font-family="Liberation Sans, sans-serif" font-size="10.5" font-weight="bold" fill="#fff" textLength="31" lengthAdjust="spacingAndGlyphs">48,280</text>
<rect x="906.6" y="569.8" width="29.699999999999932" height="16.5" fill="#1ea84a"/>
<text x="915.5" y="581.8" font-family="Liberation Sans, sans-serif" font-size="10.5" font-weight="bold" fill="#fff" textLength="19" lengthAdjust="spacingAndGlyphs">222</text>
<rect x="906.6" y="679.2" width="27.199999999999932" height="16.799999999999955" fill="#7f7f00"/>
<text x="914.5" y="691.4" font-family="Liberation Sans, sans-serif" font-size="10.5" font-weight="bold" fill="#f2f2a8" textLength="17" lengthAdjust="spacingAndGlyphs">-33</text>
<text x="4.5" y="13.3" font-family="Liberation Sans, sans-serif" font-size="11.9" fill="#333" textLength="60.7" lengthAdjust="spacingAndGlyphs">12/16/2025</text>
<text x="71.5" y="13.3" font-family="Liberation Sans, sans-serif" font-size="11.9" fill="#333" textLength="43.5" lengthAdjust="spacingAndGlyphs">9:45 AM</text>
<text x="118.7" y="13.3" font-family="Liberation Sans, sans-serif" font-size="11.9" fill="#333" textLength="182.8" lengthAdjust="spacingAndGlyphs">Dow Futures Mini (YMZ25) [CBOT]</text>
<text x="305.0" y="13.3" font-family="Liberation Sans, sans-serif" font-size="11.9" fill="#333" textLength="45.0" lengthAdjust="spacingAndGlyphs">O48,287</text>
<text x="355.6" y="13.3" font-family="Liberation Sans, sans-serif" font-size="11.9" fill="#333" textLength="43.7" lengthAdjust="spacingAndGlyphs">H48,335</text>
<text x="404.3" y="13.3" font-family="Liberation Sans, sans-serif" font-size="11.9" fill="#333" textLength="42.5" lengthAdjust="spacingAndGlyphs">L48,284</text>
<text x="451.4" y="13.3" font-family="Liberation Sans, sans-serif" font-size="11.9" fill="#333" textLength="42.4" lengthAdjust="spacingAndGlyphs">C48,311</text>
<text x="498.6" y="13.3" font-family="Liberation Sans, sans-serif" font-size="11.9" fill="#333" textLength="27.3" lengthAdjust="spacingAndGlyphs">Δ+25</text>
<text x="529.7" y="13.3" font-family="Liberation Sans, sans-serif" font-size="11.9" fill="#333" textLength="46.0" lengthAdjust="spacingAndGlyphs">(+0.05%)</text>
<text x="4.5" y="27.4" font-family="Liberation Sans, sans-serif" font-size="11.9" fill="#333" textLength="168.1" lengthAdjust="spacingAndGlyphs">Bollinger Bands (20, 2, 0, Close)</text>
<text x="178.9" y="27.4" font-family="Liberation Sans, sans-serif" font-size="11.9" fill="#333" textLength="59.9" lengthAdjust="spacingAndGlyphs">(20, 2, 0, ...)</text>
<text x="243.9" y="27.4" font-family="Liberation Sans, sans-serif" font-size="11.9" fill="#9a86d6" textLength="35.9" lengthAdjust="spacingAndGlyphs">48,493</text>
<text x="283.6" y="27.4" font-family="Liberation Sans, sans-serif" font-size="11.9" fill="#a04545" textLength="36.1" lengthAdjust="spacingAndGlyphs">48,340</text>
<text x="323.5" y="27.4" font-family="Liberation Sans, sans-serif" font-size="11.9" fill="#3fb0ba" textLength="35.9" lengthAdjust="spacingAndGlyphs">48,187</text>
<text x="363.9" y="27.4" font-family="Liberation Sans, sans-serif" font-size="11.9" fill="#333" textLength="164.5" lengthAdjust="spacingAndGlyphs">Ichimoku Clouds (9, 26, 52, 26)</text>
<text x="534.7" y="27.4" font-family="Liberation Sans, sans-serif" font-size="11.9" fill="#333" textLength="67.0" lengthAdjust="spacingAndGlyphs">(9, 26, 52, ...)</text>
<text x="605.5" y="27.4" font-family="Liberation Sans, sans-serif" font-size="11.9" fill="#333" textLength="81.5" lengthAdjust="spacingAndGlyphs">[-26, 26, 26, 26]</text>
<text x="691.7" y="27.4" font-family="Liberation Sans, sans-serif" font-size="11.9" fill="#3a90c8" textLength="35.6" lengthAdjust="spacingAndGlyphs">48,280</text>
<text x="731.9" y="27.4" font-family="Liberation Sans, sans-serif" font-size="11.9" fill="#c8423c" textLength="35.6" lengthAdjust="spacingAndGlyphs">48,310</text>
<text x="775.7" y="27.4" font-family="Liberation Sans, sans-serif" font-size="11.9" fill="#3cb83c" textLength="35.6" lengthAdjust="spacingAndGlyphs">48,474</text>
<text x="816.2" y="27.4" font-family="Liberation Sans, sans-serif" font-size="11.9" fill="#d0403c" textLength="35.0" lengthAdjust="spacingAndGlyphs">48,422</text>
<text x="4.5" y="41.6" font-family="Liberation Sans, sans-serif" font-size="11.9" fill="#333" textLength="121.8" lengthAdjust="spacingAndGlyphs">Trend Seeker® (3, 3, 3)</text>
<text x="132.6" y="41.6" font-family="Liberation Sans, sans-serif" font-size="11.9" fill="#333" textLength="39.2" lengthAdjust="spacingAndGlyphs">(3, 3, 3)</text>
<text x="178.9" y="41.6" font-family="Liberation Sans, sans-serif" font-size="11.9" fill="#e0604a" textLength="35.9" lengthAdjust="spacingAndGlyphs">48,416</text>
<text x="4.0" y="504.2" font-family="Liberation Sans, sans-serif" font-size="11.9" fill="#333" textLength="98.7" lengthAdjust="spacingAndGlyphs">Volume (LikeMain)</text>
<text x="109.5" y="504.2" font-family="Liberation Sans, sans-serif" font-size="11.9" fill="#333" textLength="55.5" lengthAdjust="spacingAndGlyphs">(LikeMain)</text>
<text x="169.4" y="504.2" font-family="Liberation Sans, sans-serif" font-size="11.9" fill="#2aa860" textLength="19.2" lengthAdjust="spacingAndGlyphs">222</text>
<text x="4.5" y="631.0" font-family="Liberation Sans, sans-serif" font-size="11.9" fill="#333" textLength="193.8" lengthAdjust="spacingAndGlyphs">Commodity Channel Index (CCI) (20)</text>
<text x="204.6" y="631.0" font-family="Liberation Sans, sans-serif" font-size="11.9" fill="#333" textLength="20.3" lengthAdjust="spacingAndGlyphs">(20)</text>
<text x="229.4" y="631.0" font-family="Liberation Sans, sans-serif" font-size="11.9" fill="#8f8f1a" textLength="18.1" lengthAdjust="spacingAndGlyphs">-33</text>
</svg></body></html>
